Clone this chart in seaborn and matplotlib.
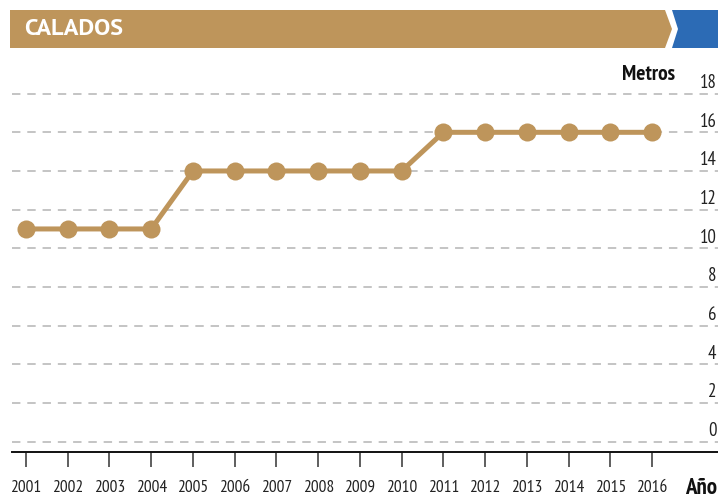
import matplotlib
matplotlib.use("Agg")
import matplotlib.pyplot as plt
import matplotlib.transforms as mtransforms
from matplotlib.patches import Polygon
import seaborn as sns
import pandas as pd

# ── Data ───────────────────────────────────────────────────────────
years = [2001, 2002, 2003, 2004, 2005, 2006, 2007, 2008,
         2009, 2010, 2011, 2012, 2013, 2014, 2015, 2016]
calado_m = [11, 11, 11, 11, 14, 14, 14, 14,
            14, 14, 16, 16, 16, 16, 16, 16]
y_ticks = [0, 2, 4, 6, 8, 10, 12, 14, 16, 18]

title = "CALADOS"
y_label = "Metros"
x_label = "Año"

GOLD = "#BE955B"
BLUE = "#2C6BB5"
GRID = "#B4B4B4"

# ── Style ──────────────────────────────────────────────────────────
sns.set_style("white")
plt.rcParams["font.family"] = ["PT Sans Narrow", "DejaVu Sans"]

df = pd.DataFrame({"year": years, "calado": calado_m})

fig = plt.figure(figsize=(7.18, 4.97), dpi=100)
W, H = 718, 497
ax = fig.add_axes([12 / W, 1 - 452 / H, 706 / W, (452 - 55) / H])

sns.lineplot(data=df, x="year", y="calado", ax=ax, color=GOLD,
             linewidth=3.6, marker="o", markersize=13,
             markeredgewidth=0, zorder=3)

ax.set_xlim(2000.665, 2017.58)
ax.set_ylim(-0.54, 20.0)

# dashed horizontal grid
for v in y_ticks:
    ax.axhline(v, color=GRID, linestyle=(0, (5.5, 4.5)), linewidth=1.1, zorder=1)

# y labels sit above each grid line at the right edge
trans = mtransforms.blended_transform_factory(ax.transAxes, ax.transData)
for v in y_ticks:
    ax.text(0.998, v + 0.55, str(v), transform=trans, ha="right", va="center",
            fontsize=13.5, color="#222222")
ax.set_yticks([])

ax.set_xticks(years)
ax.set_xticklabels([str(y) for y in years], fontsize=12.5, color="#222222")
ax.tick_params(axis="x", direction="out", length=11, width=1.1,
               color="#333333", pad=9, bottom=True)

for side in ["top", "right", "left"]:
    ax.spines[side].set_visible(False)
ax.spines["bottom"].set_color("#111111")
ax.spines["bottom"].set_linewidth(1.4)
ax.set_xlabel("")
ax.set_ylabel("")

fig.text(675 / W, 1 - 74 / H, y_label, ha="right", va="center",
         fontsize=15.5, fontweight="bold", color="#111111")
fig.text(717 / W, 1 - 488 / H, x_label, ha="right", va="center",
         fontsize=16.5, fontweight="bold", color="#111111")

# ── Title banner ───────────────────────────────────────────────────
def px(x, y):
    return (x / W, 1 - y / H)

gold_poly = Polygon([px(10, 10), px(665, 10), px(672, 29), px(665, 48), px(10, 48)],
                    closed=True, transform=fig.transFigure, facecolor=GOLD,
                    edgecolor="none")
blue_poly = Polygon([px(672, 10), px(718, 10), px(718, 48), px(672, 48), px(678, 29)],
                    closed=True, transform=fig.transFigure, facecolor=BLUE,
                    edgecolor="none")
fig.patches.extend([gold_poly, blue_poly])
fig.text(24 / W, 1 - 29.5 / H, title, ha="left", va="center", fontsize=17.5,
         fontweight="bold", color="white", family=["PT Sans", "DejaVu Sans"])

fig.savefig("out.png", dpi=100, facecolor="white")
